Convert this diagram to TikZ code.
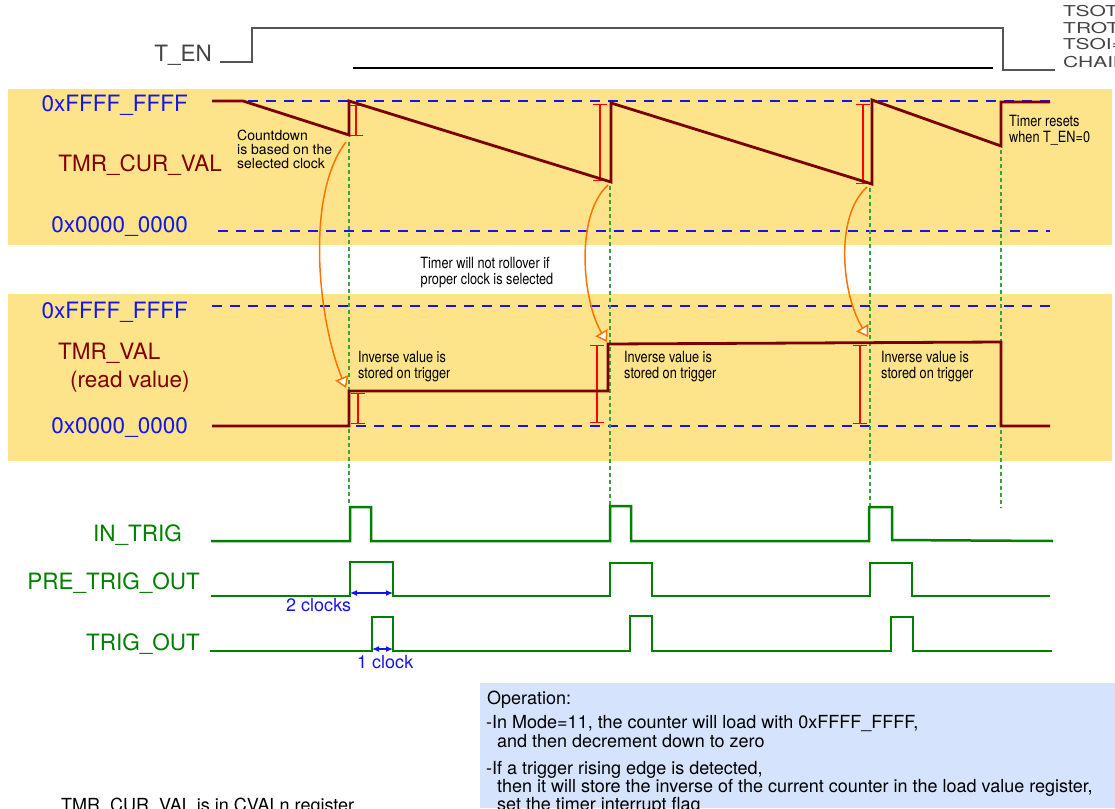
\documentclass[tikz,border=0pt]{standalone}
\usepackage{fontspec}
\setmainfont{TeX Gyre Heros}
\newfontfamily\narrowfont[FakeStretch=0.82]{TeX Gyre Heros}
\newfontfamily\widefont[FakeStretch=1.4]{TeX Gyre Heros}
\usetikzlibrary{arrows.meta}
\definecolor{panelyellow}{RGB}{253,228,138}
\definecolor{opblue}{RGB}{213,227,252}
\definecolor{lblblue}{RGB}{20,20,235}
\definecolor{darkred}{RGB}{128,0,0}
\definecolor{sigwave}{RGB}{122,0,0}
\definecolor{siggreen}{RGB}{0,128,0}
\definecolor{guidegreen}{RGB}{60,160,60}
\definecolor{arcorange}{RGB}{255,115,0}
\definecolor{tengray}{RGB}{85,85,85}
\definecolor{textgray}{RGB}{68,68,68}
\begin{document}
\begin{tikzpicture}[x=1pt,y=-1pt,
  biglbl/.style={inner sep=0pt, font=\fontsize{22.5}{27}\selectfont},
  hexlbl/.style={biglbl, text=lblblue, anchor=base east},
  reglbl/.style={biglbl, text=darkred},
  siglbl/.style={biglbl, text=siggreen, anchor=base east},
  note/.style={inner sep=0pt, anchor=base west, font=\narrowfont\fontsize{15.5}{17}\selectfont},
  smallnote/.style={inner sep=0pt, anchor=base west, font=\fontsize{14}{16}\selectfont},
  oplbl/.style={inner sep=0pt, anchor=base west, font=\fontsize{18}{20}\selectfont},
  modelbl/.style={inner sep=0pt, anchor=base west, text=textgray, font=\widefont\fontsize{15}{17}\selectfont},
  clocklbl/.style={inner sep=0pt, anchor=base west, text=lblblue, font=\fontsize{18}{20}\selectfont},
  levelline/.style={draw=lblblue, line width=2.6pt, dash pattern=on 10pt off 8pt},
  sawwave/.style={draw=sigwave, line width=2.8pt},
  pulsewave/.style={draw=siggreen, line width=2.5pt},
  guide/.style={draw=guidegreen, line width=1.4pt, dash pattern=on 4pt off 3pt},
  ibar/.style={draw=red, line width=1.3pt, {Bar[width=14pt]}-{Bar[width=14pt]}},
  capture/.style={draw=arcorange, line width=1.5pt, -{Triangle[length=11pt,width=14pt,fill=white]}},
  clockarrow/.style={draw=lblblue, line width=1.2pt, {Latex[length=7pt,width=6pt]}-{Latex[length=7pt,width=6pt]}},
]
\useasboundingbox (0,0) rectangle (1115,808);

% backgrounds
\fill[panelyellow] (8,89) rectangle (1112,245);
\fill[panelyellow] (8,294) rectangle (1112,461);
\fill[opblue] (480,683) rectangle (1115,808);

% T_EN
\node[biglbl, text=textgray, anchor=base east] (ten) at (212,62) {T\_EN};
\draw[tengray, line width=1.8pt] (220,62) -- (252,62) -- (252,28) -- (1003,28) -- (1003,70) -- (1055,70);
\draw[black, line width=1.3pt] (353,68) -- (993,68);
\node[modelbl] (m1) at (1063,17) {TSOT};
\node[modelbl] (m2) at (1063,34) {TROT};
\node[modelbl] (m3) at (1063,50) {TSOI=};
\node[modelbl] (m4) at (1063,67) {CHAIN};

% level lines
\draw[levelline] (212,101) -- (1050,101);
\draw[levelline] (218,231) -- (1050,231);
\draw[levelline] (212,306) -- (1050,306);
\draw[levelline] (212,426) -- (1050,426);

% guides
\draw[guide] (349,142) -- (349,505);
\draw[guide] (610,186) -- (610,512);
\draw[guide] (870,188) -- (870,510);
\draw[guide] (1001,150) -- (1001,508);

% red bars
\draw[ibar] (356,105) -- (356,136);
\draw[ibar] (600,104) -- (600,181);
\draw[ibar] (863,104) -- (863,184);
\draw[ibar] (358,393) -- (358,424);
\draw[ibar] (597,345) -- (597,423);
\draw[ibar] (860,345) -- (860,424);

% waves
\draw[sawwave] (212,101) -- (243,101) -- (349,135) -- (349,101) -- (611,182) -- (611,103)
  -- (872,184) -- (872,100) -- (1001,146) -- (1001,102) -- (1050,102);
\draw[sawwave] (212,426) -- (349,426) -- (349,391) -- (608,391) -- (608,344) -- (1001,342)
  -- (1001,426) -- (1050,426);

\draw[pulsewave] (211,541) -- (350,541) -- (350,507) -- (371,507) -- (371,541) -- (610,541)
  -- (610,506) -- (631,506) -- (631,541) -- (869,541) -- (869,507) -- (892,507) -- (892,540) -- (1053,541);
\draw[pulsewave] (211,596) -- (350,596) -- (350,562) -- (393,562) -- (393,596) -- (610,596)
  -- (610,563) -- (652,563) -- (652,596) -- (870,596) -- (870,563) -- (912,563) -- (912,596) -- (1050,596);
\draw[pulsewave] (210,651) -- (372,651) -- (372,617) -- (393,617) -- (393,651) -- (630,651)
  -- (630,616) -- (652,616) -- (652,651) -- (891,651) -- (891,617) -- (913,617) -- (913,651) -- (1052,651);

% capture arrows
\coordinate (c1s) at (346,142); \coordinate (c1e) at (346,388);
\coordinate (c2s) at (608,185); \coordinate (c2e) at (607,342);
\coordinate (c3s) at (867,187); \coordinate (c3e) at (868,337);
\draw[capture] (c1s) .. controls (305,195) and (318,320) .. (c1e);
\draw[capture] (c2s) .. controls (575,215) and (582,300) .. (c2e);
\draw[capture] (c3s) .. controls (834,217) and (842,295) .. (c3e);

% clock arrows
\coordinate (k1a) at (350,593); \coordinate (k1b) at (393,593);
\coordinate (k2a) at (372,649); \coordinate (k2b) at (393,649);
\draw[clockarrow] (k1a) -- (k1b);
\draw[clockarrow] (k2a) -- (k2b);
\node[clocklbl] (twoclk) at (286,611) {2 clocks};
\node[clocklbl] (oneclk) at (357,668) {1 clock};

% left labels
\node[hexlbl] (f1) at (188,111) {0xFFFF\_FFFF};
\node[reglbl, anchor=base east] (cur) at (222,171) {TMR\_CUR\_VAL};
\node[hexlbl] (z1) at (188,232) {0x0000\_0000};
\node[hexlbl] (f2) at (188,318) {0xFFFF\_FFFF};
\node[reglbl, anchor=base west] (tv) at (58,359) {TMR\_VAL};
\node[reglbl, anchor=base west] (rv) at (70,387) {(read value)};
\node[hexlbl] (z2) at (188,433) {0x0000\_0000};
\node[siglbl] (intrig) at (182,541) {IN\_TRIG};
\node[siglbl] (pretrig) at (200,589) {PRE\_TRIG\_OUT};
\node[siglbl] (trigout) at (200,650) {TRIG\_OUT};

% notes
\node[smallnote] (cd1) at (237,140) {Countdown};
\node[smallnote] (cd2) at (237,154) {is based on the};
\node[smallnote] (cd3) at (237,168) {selected clock};
\node[note] (tr1) at (1009,126) {Timer resets};
\node[note] (tr2) at (1009,142) {when T\_EN=0};
\node[note, anchor=base] (ro1) at (485,268) {Timer will not rollover if};
\node[note, anchor=base] (ro2) at (487,284) {proper clock is selected};
\node[note] (iv1a) at (358,362) {Inverse value is};
\node[note] (iv1b) at (358,378) {stored on trigger};
\node[note] (iv2a) at (624,362) {Inverse value is};
\node[note] (iv2b) at (624,378) {stored on trigger};
\node[note] (iv3a) at (881,362) {Inverse value is};
\node[note] (iv3b) at (881,378) {stored on trigger};

% operation box
\node[oplbl] (op0) at (487,704.5) {Operation:};
\node[oplbl] (op1) at (486,728.5) {-In Mode=11, the counter will load with 0xFFFF\_FFFF,};
\node[oplbl] (op2) at (497,747.5) {and then decrement down to zero};
\node[oplbl] (op3) at (486,774.5) {-If a trigger rising edge is detected,};
\node[oplbl] (op4) at (497,792.5) {then it will store the inverse of the current counter in the load value register,};
\node[oplbl] (op5) at (497,810) {set the timer interrupt flag};

\node[inner sep=0pt, anchor=base west, font=\fontsize{18}{20}\selectfont] (cval) at (61,811) {TMR\_CUR\_VAL is in CVALn register};
\end{tikzpicture}
\end{document}
